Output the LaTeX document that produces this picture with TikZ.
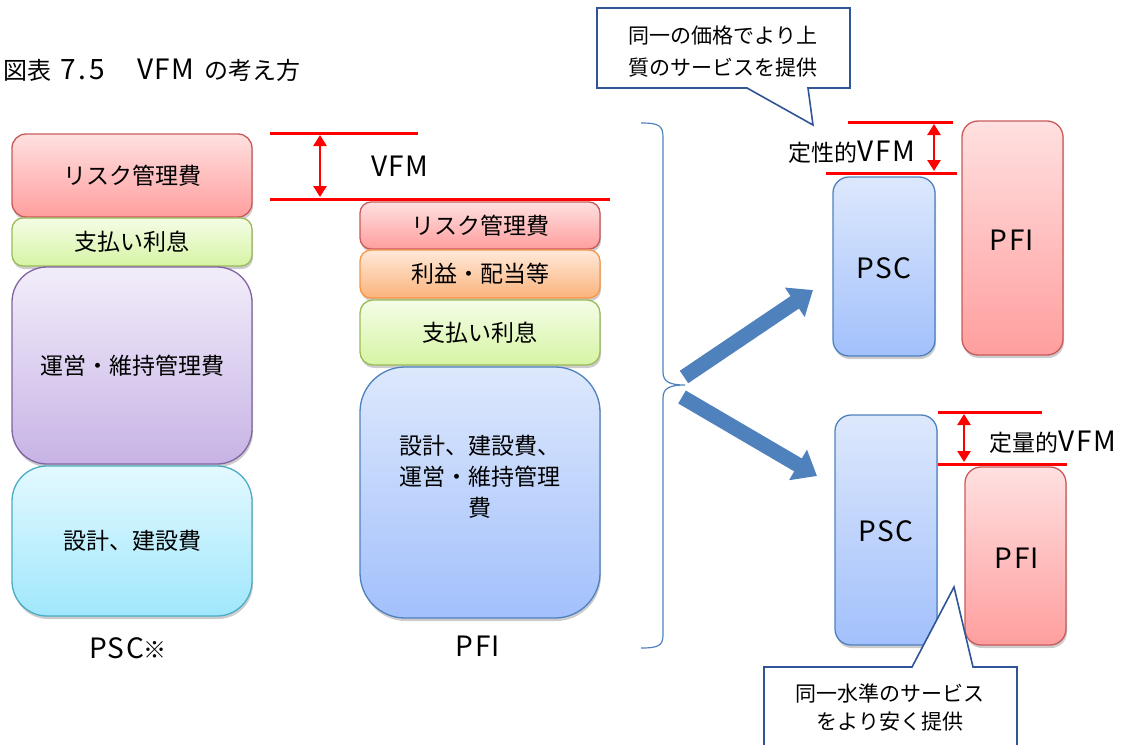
\documentclass[tikz,border=0pt]{standalone}
\usepackage{fontspec}
\setmainfont{Noto Sans CJK JP}
\newfontfamily\latfont[LetterSpace=5]{Noto Sans CJK JP}
\usetikzlibrary{arrows.meta,shadows}
\definecolor{redT}{HTML}{FFE0E0}
\definecolor{redB}{HTML}{FF9E9E}
\definecolor{redL}{HTML}{C95A5A}
\definecolor{greenT}{HTML}{F4FDE6}
\definecolor{greenB}{HTML}{D6F4A4}
\definecolor{greenL}{HTML}{9BBB59}
\definecolor{purpT}{HTML}{F2EDFA}
\definecolor{purpB}{HTML}{C7B3E5}
\definecolor{purpL}{HTML}{8064A2}
\definecolor{cyanT}{HTML}{E3F9FF}
\definecolor{cyanB}{HTML}{A0E7FC}
\definecolor{cyanL}{HTML}{4BACC6}
\definecolor{orgT}{HTML}{FFE9DA}
\definecolor{orgB}{HTML}{FBB37B}
\definecolor{orgL}{HTML}{F79646}
\definecolor{bluT}{HTML}{DDE8FC}
\definecolor{bluB}{HTML}{A2C0FC}
\definecolor{bluL}{HTML}{4F81BD}
\definecolor{arrB}{HTML}{4F81BD}
\definecolor{callL}{HTML}{2F5597}
\newcommand\La[1]{{\latfont\fontsize{28}{30}\selectfont #1}}
\begin{document}
\begin{tikzpicture}[x=1pt,y=-1pt,
  box/.style={line width=1.3pt, inner sep=0pt, align=center,
    font=\fontsize{23}{30}\selectfont,
    drop shadow={shadow xshift=1pt, shadow yshift=-3pt, opacity=0.2, fill=black}},
  redbox/.style={box, draw=redL, top color=redT, bottom color=redB},
  greenbox/.style={box, draw=greenL, top color=greenT, bottom color=greenB},
  purpbox/.style={box, draw=purpL, top color=purpT, bottom color=purpB},
  cyanbox/.style={box, draw=cyanL, top color=cyanT, bottom color=cyanB},
  orgbox/.style={box, draw=orgL, top color=orgT, bottom color=orgB},
  blubox/.style={box, draw=bluL, top color=bluT, bottom color=bluB},
  redline/.style={draw=red, line width=3pt},
  vfmarr/.style={draw=red, line width=2.5pt, {Triangle[width=13pt,length=11pt]}-{Triangle[width=13pt,length=11pt]}},
  bigarr/.style={draw=arrB, line width=15pt, -{Triangle[width=34pt,length=22pt]}},
  callout/.style={draw=callL, line width=1.6pt, fill=white, line join=miter},
  lbl/.style={font=\fontsize{23}{30}\selectfont, inner sep=0pt},
  calltext/.style={font=\fontsize{21}{30}\selectfont, align=center, inner sep=0pt}
]
\useasboundingbox (0,0) rectangle (1126,744);

% title
\node[lbl, anchor=west, font=\fontsize{24}{30}\selectfont] (title) at (3,70)
  {図表\hspace{9pt}{\latfont\fontsize{28}{30}\selectfont 7\hspace{3pt}.\hspace{3pt}5}\hspace{32pt}\La{VFM}\hspace{10pt}の考え方};

% left column PSC
\node[redbox, rounded corners=14pt, minimum width=240pt, minimum height=83pt] (pscrisk) at (132,175.5) {リスク管理費};
\node[greenbox, rounded corners=11pt, minimum width=240pt, minimum height=48pt] (pscint) at (132,242) {支払い利息};
\node[purpbox, rounded corners=35pt, minimum width=240pt, minimum height=197pt] (pscom) at (132,365.5) {運営・維持管理費};
\node[cyanbox, rounded corners=35pt, minimum width=240pt, minimum height=150pt] (pscdes) at (132,541) {設計、建設費};
\node[lbl] (psclbl) at (128,648) {\La{PSC}※};

% middle column PFI
\node[redbox, rounded corners=11pt, minimum width=240pt, minimum height=47pt] (pfirisk) at (480,225.5) {リスク管理費};
\node[orgbox, rounded corners=11pt, minimum width=240pt, minimum height=48pt] (pfiprof) at (480,274) {利益・配当等};
\node[greenbox, rounded corners=13pt, minimum width=240pt, minimum height=65pt] (pfiint) at (480,332.5) {支払い利息};
\node[blubox, rounded corners=45pt, minimum width=240pt, minimum height=251pt] (pfimain) at (480,492.5) {};
\node[lbl, align=center, font=\fontsize{23}{31}\selectfont] (pfimaintext) at (480,477) {設計、建設費、\\運営・維持管理\\費};
\node[lbl] (pfilbl) at (478,646) {\La{PFI}};

% VFM marks (middle)
\coordinate (m1a) at (270,133); \coordinate (m1b) at (418,133);
\coordinate (m2a) at (270,199); \coordinate (m2b) at (610,199);
\draw[redline] (m1a) -- (m1b);
\draw[redline] (m2a) -- (m2b);
\coordinate (ma1) at (320,135); \coordinate (ma2) at (320,197);
\draw[vfmarr] (ma1) -- (ma2);
\node[lbl] (vfm) at (400,166) {\La{VFM}};

% brace
\coordinate (bt) at (641,123);
\coordinate (btip) at (685,385);
\coordinate (bb) at (641,648);
\draw[draw=arrB, line width=1.2pt]
  (bt) .. controls (660,123) and (663,126) .. (663,138) -- (663,372)
  .. controls (663,382) and (670,385) .. (btip)
  .. controls (670,385) and (663,388) .. (663,398) -- (663,634)
  .. controls (663,645) and (660,648) .. (bb);

% right upper
\node[blubox, rounded corners=16pt, minimum width=102pt, minimum height=179pt] (psc1) at (884,266.5) {};
\node[lbl] (psc1t) at (884,268) {\La{PSC}};
\node[redbox, rounded corners=16pt, minimum width=101pt, minimum height=234pt] (pfi1) at (1012.5,238) {};
\node[lbl] (pfi1t) at (1012,240) {\La{PFI}};
\coordinate (q1a) at (848,122); \coordinate (q1b) at (953,122);
\coordinate (q2a) at (826,173); \coordinate (q2b) at (957,173);
\draw[redline] (q1a) -- (q1b);
\draw[redline] (q2a) -- (q2b);
\coordinate (qa1) at (934,124); \coordinate (qa2) at (934,171);
\draw[vfmarr] (qa1) -- (qa2);
\node[lbl] (qvfm) at (852,152) {定性的\La{VFM}};

% right lower
\node[blubox, rounded corners=16pt, minimum width=102pt, minimum height=230pt] (psc2) at (886,530) {};
\node[lbl] (psc2t) at (886,531) {\La{PSC}};
\node[redbox, rounded corners=16pt, minimum width=101pt, minimum height=178pt] (pfi2) at (1015.5,556) {};
\node[lbl] (pfi2t) at (1017,558) {\La{PFI}};
\coordinate (n1a) at (938,412); \coordinate (n1b) at (1042,412);
\coordinate (n2a) at (938,464); \coordinate (n2b) at (1067,464);
\draw[redline] (n1a) -- (n1b);
\draw[redline] (n2a) -- (n2b);
\coordinate (na1) at (964,414); \coordinate (na2) at (964,462);
\draw[vfmarr] (na1) -- (na2);
\node[lbl] (nvfm) at (1053,442) {定量的\La{VFM}};

% big arrows
\coordinate (u0) at (684,377); \coordinate (u1) at (813,290);
\coordinate (l0) at (682,397); \coordinate (l1) at (817,476);
\draw[bigarr] (u0) -- (u1);
\draw[bigarr] (l0) -- (l1);

% callouts
\draw[callout] (597,8) -- (850,8) -- (850,88) -- (808,88) -- (813,125) -- (747,88) -- (597,88) -- cycle;
\node[calltext, font=\fontsize{21}{32}\selectfont] (call1) at (723,52) {同一の価格でより上\\質のサービスを提供};
\draw[callout] (764,667) -- (912,667) -- (954,587) -- (973,667) -- (1017,667) -- (1017,780) -- (764,780) -- cycle;
\node[calltext, font=\fontsize{21}{28}\selectfont] (call2) at (890,707) {同一水準のサービス\\をより安く提供};
\end{tikzpicture}
\end{document}
